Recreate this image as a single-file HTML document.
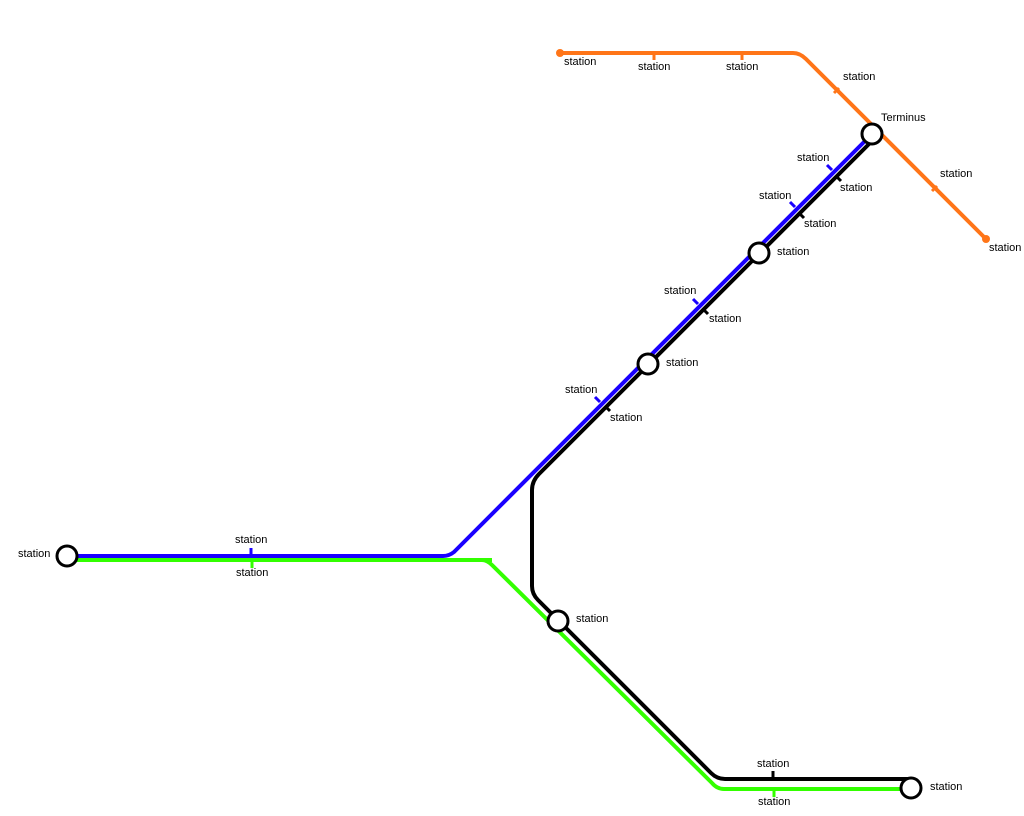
<!DOCTYPE html>
<html><head><meta charset="utf-8"><style>
html,body{margin:0;padding:0;background:#fff;}
svg{display:block;}
text{font-family:"Liberation Sans",sans-serif;font-size:11px;fill:#000;}
</style></head><body>
<svg width="1024" height="816" viewBox="0 0 1024 816">
<g fill="none" stroke-linejoin="round">
<!-- orange -->
<path d="M560,53 H793 Q800,53 806,59 L986,239" stroke="#ff7518" stroke-width="4"/>
<circle cx="560" cy="53" r="4" fill="#ff7518"/>
<circle cx="986" cy="239" r="4" fill="#ff7518"/>
<path d="M839,88 l-5,5 M937,186 l-5,5 M654,53 v7 M742,53 v7" stroke="#ff7518" stroke-width="3"/>
<!-- green -->
<path d="M67,560 H482 Q487,560 492,565 L712,783 Q717,789 724,789 H911" stroke="#33ff00" stroke-width="4"/>
<path d="M482,560 H492" stroke="#33ff00" stroke-width="4"/>
<path d="M252,560 v8 M774,789 v8" stroke="#33ff00" stroke-width="3"/>
<!-- blue -->
<path d="M67,556 H443 Q449,556 454,552 L870,136" stroke="#1a00ff" stroke-width="4"/>
<path d="M251,556 v-8 M832,170 l-5,-5 M795,207 l-5,-5 M698,304 l-5,-5 M600,402 l-5,-5" stroke="#1a00ff" stroke-width="3"/>
<!-- black -->
<path d="M875,138 L539,474 Q532,481 532,490 V586 Q532,594 538,600 L711,773 Q717,779 725,779 H911" stroke="#000" stroke-width="4"/>
<path d="M773,779 v-8 M836,176 l5,5 M799,213 l5,5 M703,309 l5,5 M605,406 l5,5" stroke="#000" stroke-width="3"/>
<!-- interchanges -->
<g fill="#fff" stroke="#000" stroke-width="3">
<circle cx="67" cy="556" r="10"/>
<circle cx="872" cy="134" r="10"/>
<circle cx="759" cy="253" r="10"/>
<circle cx="648" cy="364" r="10"/>
<circle cx="558" cy="621" r="10"/>
<circle cx="911" cy="788" r="10"/>
</g>
</g>
<text x="564" y="65">station</text>
<text x="638" y="70">station</text>
<text x="726" y="70">station</text>
<text x="843" y="80">station</text>
<text x="881" y="121">Terminus</text>
<text x="940" y="177">station</text>
<text x="989" y="251">station</text>
<text x="797" y="161">station</text>
<text x="840" y="191">station</text>
<text x="759" y="199">station</text>
<text x="804" y="227">station</text>
<text x="777" y="255">station</text>
<text x="664" y="294">station</text>
<text x="709" y="322">station</text>
<text x="666" y="366">station</text>
<text x="565" y="393">station</text>
<text x="610" y="421">station</text>
<text x="18" y="557">station</text>
<text x="235" y="543">station</text>
<text x="236" y="576">station</text>
<text x="576" y="622">station</text>
<text x="757" y="767">station</text>
<text x="758" y="805">station</text>
<text x="930" y="790">station</text>
</svg>
</body></html>
